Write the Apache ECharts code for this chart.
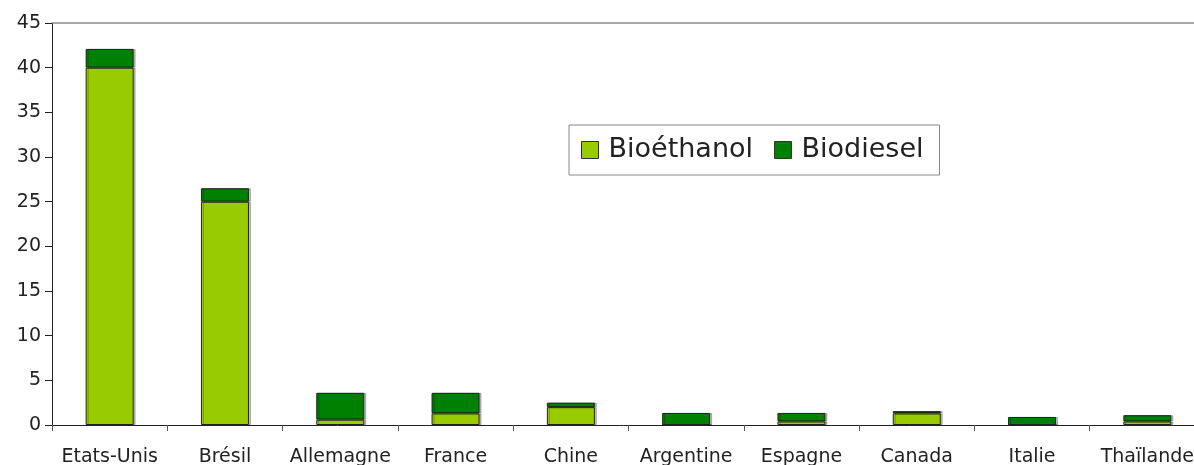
<!DOCTYPE html>
<html>
<head>
<meta charset="utf-8">
<script src="https://cdn.jsdelivr.net/npm/echarts@6/dist/echarts.min.js"></script>
<style>
html,body{margin:0;padding:0;background:#fff;}
#c{width:1194px;height:465px;}
</style>
</head>
<body>
<div id="c"></div>
<script>
const categories = ['Etats-Unis', 'Brésil', 'Allemagne', 'France', 'Chine', 'Argentine', 'Espagne', 'Canada', 'Italie', 'Thaïlande'];
const bioethanol = [40, 25, 0.6, 1.3, 2.0, 0, 0.4, 1.3, 0, 0.4];
const biodiesel = [2.1, 1.5, 3.0, 2.3, 0.5, 1.35, 0.95, 0.25, 0.9, 0.7];
const seriesNames = ['Bioéthanol', 'Biodiesel'];

const FONT = 'DejaVu Sans';
const chart = echarts.init(document.getElementById('c'), null, {renderer: 'canvas'});
const barStyle = (color) => ({
  color: color,
  borderColor: '#222',
  borderWidth: 1,
  shadowColor: 'rgba(0,0,0,0.25)',
  shadowOffsetX: 2,
  shadowOffsetY: 0,
  shadowBlur: 0
});
chart.setOption({
  animation: false,
  backgroundColor: '#fff',
  grid: {left: 52, right: -11, top: 23, bottom: 40, containLabel: false, outerBoundsMode: 'none'},
  legend: {
    data: seriesNames,
    left: 569, top: 125,
    orient: 'horizontal',
    itemWidth: 17, itemHeight: 17, itemGap: 21,
    padding: [10, 16, 10, 12],
    borderColor: '#888', borderWidth: 1,
    icon: 'rect',
    itemStyle: {borderColor: '#333', borderWidth: 1},
    textStyle: {fontFamily: FONT, fontSize: 27, color: '#222', lineHeight: 30, padding: [0, 0, 0, 5]}
  },
  xAxis: [{
    type: 'category',
    data: categories,
    position: 'bottom',
    axisLine: {show: true, lineStyle: {color: '#222', width: 1}},
    axisTick: {show: true, length: 6, lineStyle: {color: '#555'}},
    axisLabel: {interval: 0, margin: 23, fontFamily: FONT, fontSize: 19, color: '#222'},
    splitLine: {show: false}
  }, {
    type: 'category',
    data: categories,
    position: 'top',
    axisLine: {show: true, lineStyle: {color: '#8a8a8a', width: 1.5}},
    axisTick: {show: false},
    axisLabel: {show: false},
    splitLine: {show: false}
  }],
  yAxis: {
    type: 'value',
    min: 0, max: 45, interval: 5,
    axisLine: {show: true, lineStyle: {color: '#222', width: 1}},
    axisTick: {show: true, length: 7, lineStyle: {color: '#222'}},
    axisLabel: {margin: 11, fontFamily: FONT, fontSize: 19, color: '#222'},
    splitLine: {show: false}
  },
  series: [{
    name: seriesNames[0],
    type: 'bar',
    stack: 'total',
    barWidth: 48,
    data: bioethanol,
    itemStyle: barStyle('#99CC00')
  }, {
    name: seriesNames[1],
    type: 'bar',
    stack: 'total',
    barWidth: 48,
    data: biodiesel,
    itemStyle: barStyle('#008000')
  }]
});
</script>
</body>
</html>
